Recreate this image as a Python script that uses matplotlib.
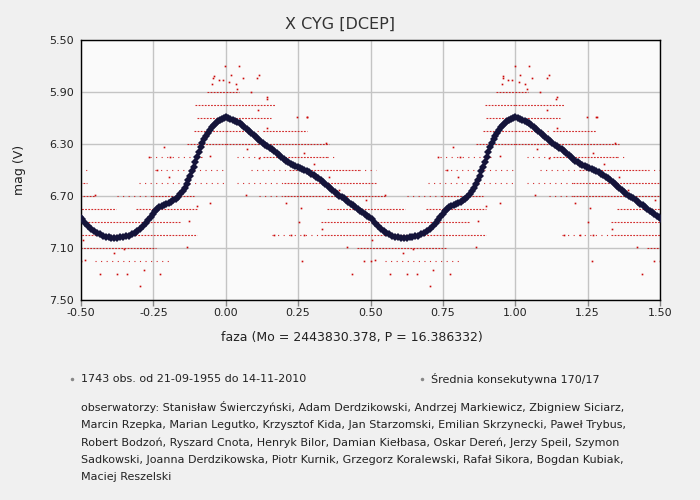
import numpy as np
import matplotlib
matplotlib.use('Agg')
import matplotlib.pyplot as plt
from matplotlib.lines import Line2D

plt.rcParams['font.family'] = ['DejaVu Sans']

title = "X CYG [DCEP]"
xlabel = "faza (Mo = 2443830.378, P = 16.386332)"
ylabel = "mag (V)"
xticks = [-0.5, -0.25, 0.0, 0.25, 0.5, 0.75, 1.0, 1.25, 1.5]
yticks = [5.5, 5.9, 6.3, 6.7, 7.1, 7.5]
legend_obs = "1743 obs. od 21-09-1955 do 14-11-2010"
legend_mean = "Średnia konsekutywna 170/17"
observers = [
    "obserwatorzy: Stanisław Świerczyński, Adam Derdzikowski, Andrzej Markiewicz, Zbigniew Siciarz,",
    "Marcin Rzepka, Marian Legutko, Krzysztof Kida, Jan Starzomski, Emilian Skrzynecki, Paweł Trybus,",
    "Robert Bodzoń, Ryszard Cnota, Henryk Bilor, Damian Kiełbasa, Oskar Dereń, Jerzy Speil, Szymon",
    "Sadkowski, Joanna Derdzikowska, Piotr Kurnik, Grzegorz Koralewski, Rafał Sikora, Bogdan Kubiak,",
    "Maciej Reszelski",
]

# consecutive mean (one cycle, phase 0..1)
mean_phase = [
    0.000, 0.008, 0.016, 0.024, 0.032, 0.040, 0.048, 0.056, 0.064, 0.072,
    0.080, 0.088, 0.096, 0.104, 0.112, 0.120, 0.128, 0.136, 0.144, 0.152,
    0.160, 0.168, 0.176, 0.184, 0.192, 0.200, 0.208, 0.216, 0.224, 0.232,
    0.240, 0.248, 0.256, 0.264, 0.272, 0.280, 0.288, 0.296, 0.304, 0.312,
    0.320, 0.328, 0.336, 0.344, 0.352, 0.360, 0.368, 0.376, 0.384, 0.392,
    0.400, 0.408, 0.416, 0.424, 0.432, 0.440, 0.448, 0.456, 0.464, 0.472,
    0.480, 0.488, 0.496, 0.505, 0.515, 0.525, 0.535, 0.545, 0.555, 0.565,
    0.575, 0.585, 0.595, 0.605, 0.615, 0.625, 0.635, 0.645, 0.655, 0.665,
    0.675, 0.685, 0.695, 0.705, 0.715, 0.725, 0.733, 0.741, 0.749, 0.756,
    0.763, 0.771, 0.779, 0.787, 0.795, 0.803, 0.811, 0.819, 0.827, 0.835,
    0.843, 0.851, 0.858, 0.865, 0.871, 0.877, 0.883, 0.889, 0.895, 0.901,
    0.907, 0.913, 0.919, 0.925, 0.931, 0.937, 0.944, 0.951, 0.958, 0.965,
    0.972, 0.979, 0.986, 0.993,
]
mean_mag = [
    6.095, 6.100, 6.105, 6.112, 6.122, 6.130, 6.140, 6.152, 6.166, 6.182,
    6.198, 6.215, 6.232, 6.248, 6.262, 6.278, 6.292, 6.305, 6.316, 6.328,
    6.340, 6.354, 6.370, 6.386, 6.402, 6.416, 6.430, 6.442, 6.452, 6.460,
    6.467, 6.475, 6.483, 6.490, 6.498, 6.508, 6.518, 6.528, 6.538, 6.550,
    6.562, 6.576, 6.590, 6.605, 6.622, 6.640, 6.656, 6.672, 6.686, 6.698,
    6.708, 6.718, 6.730, 6.744, 6.758, 6.772, 6.786, 6.800, 6.814, 6.826,
    6.838, 6.850, 6.864, 6.880, 6.905, 6.928, 6.950, 6.968, 6.984, 6.996,
    7.006, 7.013, 7.018, 7.020, 7.021, 7.020, 7.018, 7.014, 7.010, 7.004,
    6.996, 6.984, 6.968, 6.950, 6.930, 6.908, 6.886, 6.862, 6.838, 6.815,
    6.798, 6.786, 6.777, 6.769, 6.761, 6.753, 6.744, 6.733, 6.720, 6.705,
    6.686, 6.664, 6.640, 6.610, 6.578, 6.545, 6.510, 6.475, 6.438, 6.400,
    6.362, 6.326, 6.292, 6.262, 6.236, 6.212, 6.190, 6.170, 6.154, 6.138,
    6.124, 6.114, 6.105, 6.099,
]

# observation clusters: dense runs of estimates at one magnitude (phase 0..1)
dense_mag = [5.9, 5.9, 6.0, 6.0, 6.1, 6.1, 6.2, 6.2, 6.2, 6.3, 6.3,
             6.4, 6.4, 6.5, 6.6, 6.7, 6.7, 6.8, 6.8, 6.9, 7.0, 7.1]
dense_start = [0.935, 0.000, 0.895, 0.000, 0.900, 0.000, 0.890, 0.000, 0.130, 0.866, 0.000,
               0.890, 0.130, 0.220, 0.200, 0.200, 0.745, 0.350, 0.690, 0.330, 0.330, 0.455]
dense_end = [1.000, 0.045, 1.000, 0.170, 1.000, 0.155, 1.000, 0.070, 0.280, 1.000, 0.357,
             0.920, 0.350, 0.460, 0.520, 0.550, 0.890, 0.620, 0.900, 0.845, 0.900, 0.760]
# sparser runs
sparse_mag = [6.2, 6.4, 6.4, 6.4, 6.5, 6.5, 6.5, 6.6, 6.6, 6.7, 6.7, 7.0, 7.2]
sparse_start = [0.070, 0.040, 0.350, 0.740, 0.086, 0.460, 0.757, 0.040, 0.700, 0.115, 0.625, 0.160, 0.550]
sparse_end = [0.130, 0.130, 0.380, 0.890, 0.220, 0.520, 1.000, 0.200, 1.000, 0.200, 0.745, 0.330, 0.810]
# isolated observations
iso_phase = [0.046, 0.017, 0.058, 0.115, 0.035, 0.012, 0.086, 0.144, 0.110, 0.247,
             0.282, 0.144, 0.345, 0.075, 0.115, 0.305, 0.270, 0.069, 0.207, 0.259,
             0.253, 0.167, 0.224, 0.270, 0.265, 0.478, 0.500, 0.437, 0.334, 0.357,
             0.390, 0.483, 0.506, 0.420, 0.999, 0.958, 0.976, 0.953, 0.786, 0.734,
             0.809, 0.947, 0.763, 0.803, 0.947, 0.900, 0.550, 0.567, 0.625, 0.659,
             0.774, 0.705, 0.717, 0.866, 0.872, 0.515, 0.613, 0.648, 0.990, 0.108,
             0.141, 0.279, 0.956, 0.040]
iso_mag = [5.70, 5.77, 5.79, 5.77, 5.84, 5.82, 5.90, 5.94, 6.04, 6.09,
           6.09, 6.18, 6.29, 6.34, 6.41, 6.45, 6.37, 6.69, 6.75, 6.79,
           6.90, 7.00, 7.00, 7.00, 7.20, 7.20, 7.20, 7.30, 6.95, 6.55,
           6.65, 6.73, 7.04, 7.09, 5.70, 5.775, 5.805, 5.84, 6.32, 6.40,
           6.40, 6.395, 6.50, 6.55, 6.75, 6.78, 6.69, 7.30, 7.30, 7.30,
           7.30, 7.395, 7.27, 7.09, 6.895, 7.19, 7.14, 7.11, 5.81, 5.79,
           5.95, 6.09, 5.79, 5.88]

W, H = 700, 500
fig = plt.figure(figsize=(7, 5), dpi=100, facecolor='#f0f0f0')
ax = fig.add_axes([81 / W, 1 - 300 / H, (660 - 81) / W, 260 / H])
ax.set_facecolor('#fafafa')

red = '#cc0808'
shifts = [-1, 0, 1]
for s in shifts:
    ax.hlines(dense_mag, np.array(dense_start) + s, np.array(dense_end) + s,
              colors=red, linewidth=0.8, linestyles=(0, (1.6, 1.2)), alpha=0.85, zorder=2)
    ax.hlines(sparse_mag, np.array(sparse_start) + s, np.array(sparse_end) + s,
              colors=red, linewidth=0.8, linestyles=(0, (1.0, 4.0)), alpha=0.85, zorder=2)
    ax.plot(np.array(iso_phase) + s, iso_mag, linestyle='none', marker='s',
            markersize=1.2, color=red, markeredgewidth=0, zorder=2)

mp = np.array(mean_phase)
mm = np.array(mean_mag)
for s in shifts:
    x = mp + s
    sel = (x >= -0.505) & (x <= 1.505)
    ax.plot(x[sel], mm[sel], linestyle='none', marker='D', markersize=4.2,
            color='#14143a', markeredgewidth=0, zorder=3)

ax.set_xlim(-0.5, 1.5)
ax.set_ylim(7.5, 5.5)
ax.set_xticks(xticks)
ax.set_yticks(yticks)
ax.set_xticklabels(['%.2f' % v for v in xticks])
ax.set_yticklabels(['%.2f' % v for v in yticks])
ax.grid(True, color='#c4c4c4', linewidth=1.0, zorder=0)
ax.set_axisbelow(True)
for sp in ax.spines.values():
    sp.set_color('#000000')
    sp.set_linewidth(1.0)
ax.tick_params(axis='x', direction='out', length=4, width=1, color='#888888',
               labelsize=8, labelcolor='#222222', pad=2)
ax.tick_params(axis='y', direction='out', length=0, labelsize=8,
               labelcolor='#222222', pad=5)

fig.text(340 / W, 1 - 24 / H, title, ha='center', va='center', fontsize=11.5, color='#333333')
fig.text(352 / W, 1 - 337 / H, xlabel, ha='center', va='center', fontsize=9, color='#222222')
fig.text(20 / W, 1 - 170 / H, ylabel, ha='center', va='center', rotation=90, fontsize=9, color='#222222')

fig.add_artist(Line2D([72 / W], [1 - 379 / H], marker='o', markersize=1.5, color='#888888',
                      linestyle='none', transform=fig.transFigure))
fig.text(81 / W, 1 - 379 / H, legend_obs, ha='left', va='center', fontsize=8, color='#222222')
fig.add_artist(Line2D([422 / W], [1 - 379 / H], marker='o', markersize=1.5, color='#888888',
                      linestyle='none', transform=fig.transFigure))
fig.text(431 / W, 1 - 379 / H, legend_mean, ha='left', va='center', fontsize=8, color='#222222')

line_y = [407, 425, 443, 460, 477]
for t, yy in zip(observers, line_y):
    fig.text(81 / W, 1 - yy / H, t, ha='left', va='center', fontsize=8, color='#222222')

fig.savefig('out.png', dpi=100, facecolor=fig.get_facecolor())
